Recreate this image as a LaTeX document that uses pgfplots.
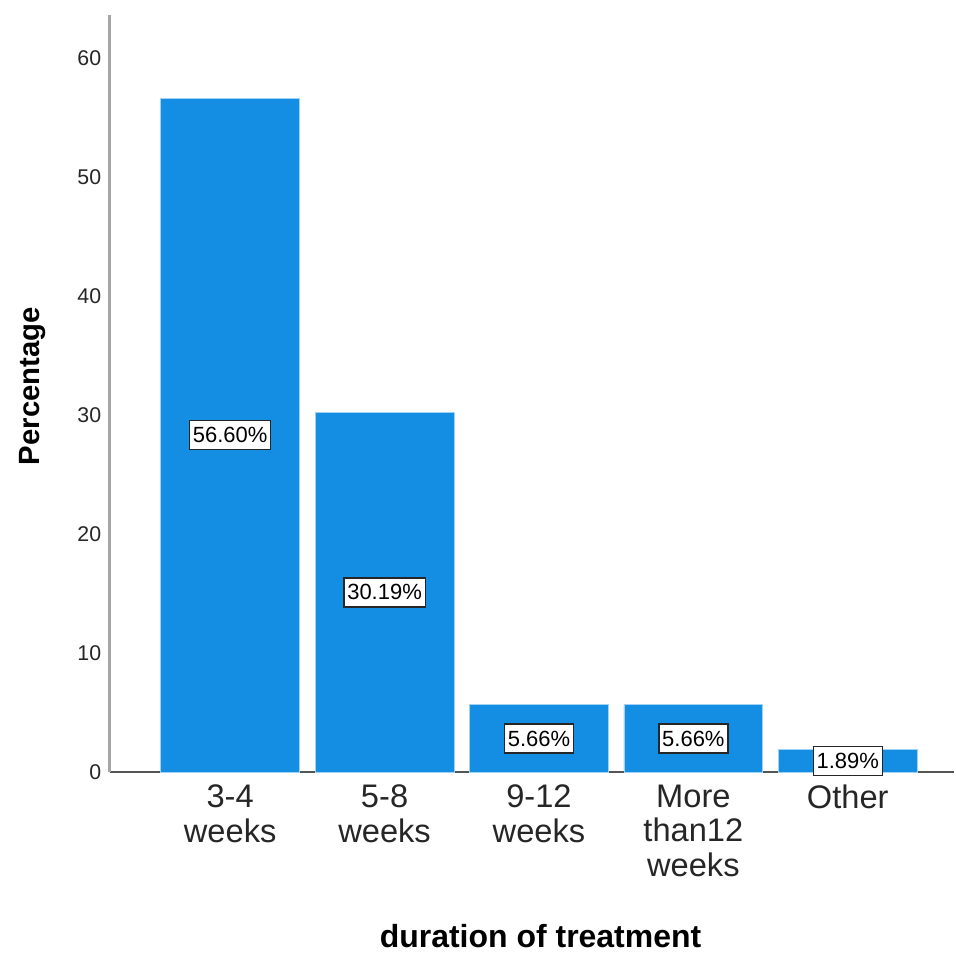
\documentclass[border=0pt]{standalone}
\usepackage{pgfplots}
\pgfplotsset{compat=1.18}
\usepackage{pgfplotstable}
\usepackage{fontspec}
\setmainfont{Liberation Sans}
\definecolor{barblue}{RGB}{20,142,227}
\definecolor{yaxgray}{RGB}{165,165,165}
\definecolor{xaxgray}{RGB}{85,85,85}
\pgfplotstableread{
x y half label
0 56.60 28.30 56.60\%
1 30.19 15.10 30.19\%
2 5.66 2.83 5.66\%
3 5.66 2.83 5.66\%
4 1.89 0.95 1.89\%
}\datatab
\begin{document}
\begin{tikzpicture}
\begin{axis}[
  at={(0,0)}, anchor=south west,
  scale only axis,
  width=634pt, height=568.5pt,
  xmin=-0.779, xmax=4.69,
  ymin=0, ymax=63.6,
  axis x line=bottom, axis y line=left,
  axis line style={-},
  every outer x axis line/.append style={draw=xaxgray, line width=1.2pt},
  every outer y axis line/.append style={draw=yaxgray, line width=2.2pt},
  major tick length=0pt,
  xtick=data,
  xticklabels={{3-4\\weeks},{5-8\\weeks},{9-12\\weeks},{More\\than12\\weeks},{Other}},
  ytick={0,10,20,30,40,50,60},
  /pgf/number format/assume math mode=true,
  yticklabel style={font=\fontsize{16}{19}\selectfont, text=black!85, xshift=-3pt},
  xticklabel style={font=\fontsize{24.5}{26}\selectfont, align=center, text=black!85, anchor=north, yshift=-6pt},
  xlabel={\textbf{duration of treatment}},
  ylabel={\textbf{Percentage}},
  every axis x label/.style={at={(rel axis cs:0.51,0)}, yshift=-123pt, anchor=center, font=\fontsize{24}{28}\selectfont},
  every axis y label/.style={at={(rel axis cs:0,0.51)}, xshift=-57.75pt, rotate=90, anchor=center, font=\fontsize{22}{26}\selectfont},
  clip=false,
]
\addplot[ybar, bar width=0.9, fill=barblue, draw=barblue!40, line width=0.6pt] table[x=x, y=y] {\datatab};
\addplot[only marks, mark=none,
  nodes near coords, point meta=explicit symbolic,
  every node near coord/.style={anchor=center, fill=white, draw=black!85, line width=1pt, inner xsep=2.5pt, inner ysep=5pt, font=\fontsize{16.5}{18}\selectfont}
] table[x=x, y=half, meta=label] {\datatab};
\end{axis}
\pgfresetboundingbox
\path (-82.5pt,-137.25pt) rectangle (635.25pt,579.75pt);
\end{tikzpicture}
\end{document}
